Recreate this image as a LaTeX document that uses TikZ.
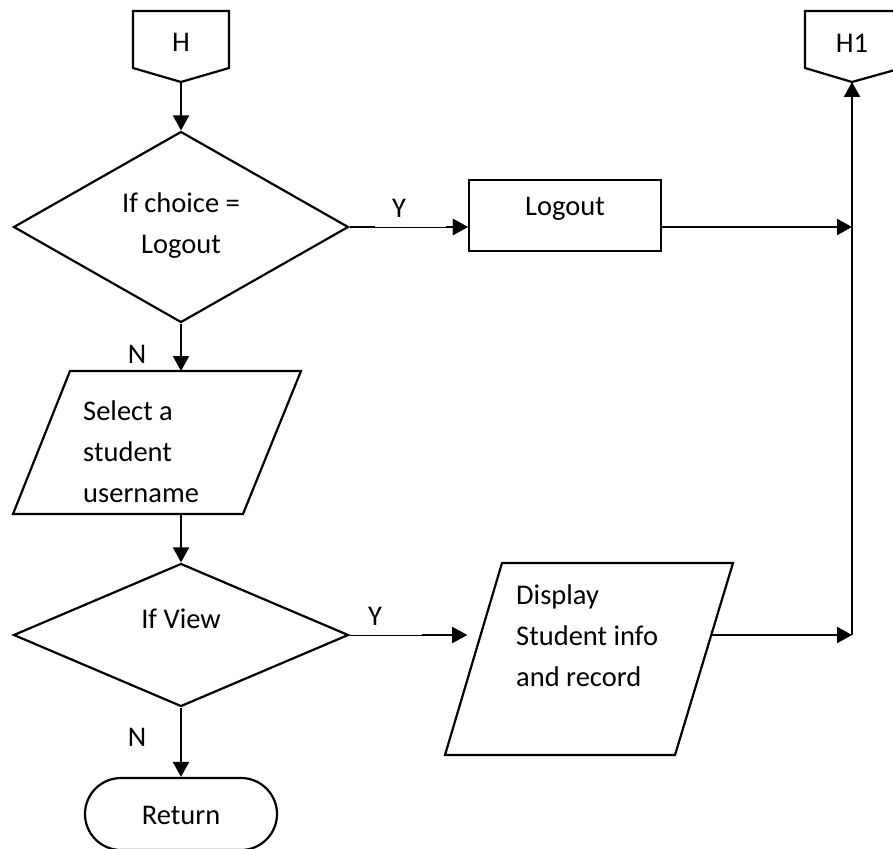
\documentclass[tikz,border=0pt]{standalone}
\usepackage{fontspec}
\setmainfont{Carlito}
\usetikzlibrary{arrows.meta,shapes.geometric}
\begin{document}
\begin{tikzpicture}[x=1pt,y=-1pt,
  ln/.style={line width=2.2pt, line join=miter},
  conn/.style={line width=2.2pt,-{Triangle[length=15pt,width=16pt]}},
  thinconn/.style={line width=0.9pt,-{Triangle[length=15pt,width=16pt]}},
  stub/.style={line width=2.2pt},
  txt/.style={font=\fontsize{28.5}{41}\selectfont, inner sep=0pt},
  decision/.style={diamond, draw, line width=2.2pt, inner sep=0pt, fill=white},
  procbox/.style={rectangle, draw, line width=2.2pt, inner sep=0pt, fill=white},
  termbox/.style={rectangle, rounded corners=36pt, draw, line width=2.2pt, inner sep=0pt, fill=white}]
\useasboundingbox (0,0) rectangle (893,848);
\clip (0,0) rectangle (893,848);
\fill[white] (0,0) rectangle (893,848);

% off-page connectors
\draw[ln] (133,11) -- (229,11) -- (229,68) -- (181,82) -- (133,68) -- cycle;
\node[txt] (H) at (181,42) {H};
\coordinate (Hb) at (181,82);
\draw[ln] (805,11) -- (902,11) -- (902,68) -- (852,82) -- (805,68) -- cycle;
\node[txt] (H1) at (852,43) {H1};
\coordinate (H1b) at (852,82);

% decision 1
\node[decision, minimum width=335pt, minimum height=191pt] (d1) at (181,227) {};
\node[txt, align=center] (d1t) at (181,226) {If choice =\\Logout};

% logout box
\node[procbox, minimum width=192pt, minimum height=71pt] (lo) at (565,215.5) {};
\node[txt] (lot) at (565,209) {Logout};

% junction points on right line
\coordinate (j1) at (852,227);
\coordinate (j2) at (852,635);

% select parallelogram
\draw[ln, fill=white] (70,371) -- (301,371) -- (243,514) -- (13,514) -- cycle;
\coordinate (selTop) at (181,371);
\coordinate (selBot) at (181,514);
\node[txt, align=left, anchor=west] (selt) at (83,452) {Select a\\student\\username};

% decision 2
\node[decision, minimum width=335pt, minimum height=143pt] (d2) at (181,635) {};
\node[txt] (d2t) at (181,619) {If View};

% display parallelogram
\draw[ln, fill=white] (502,563) -- (733,563) -- (675,755) -- (445,755) -- cycle;
\coordinate (dispIn) at (467,635);
\coordinate (dispOut) at (712,635);
\node[txt, align=left, anchor=west] (dispt) at (516,636) {Display\\Student info\\and record};

% return terminal
\node[termbox, minimum width=192pt, minimum height=72pt] (ret) at (181,814) {};
\node[txt] (rett) at (181,815) {Return};

% connectors
\draw[conn] (Hb) -- (d1.north);
\draw[thinconn] (d1.east) -- (d1.east -| lo.west);
\draw[stub] (d1.east) -- ++(25,0);
\draw[conn] ([xshift=-22pt]d1.east -| lo.west) -- (d1.east -| lo.west);
\node[txt] (y1) at (399,208) {Y};
\draw[conn] (lo.east |- j1) -- (j1);
\draw[conn] (j2) -- (H1b);
\draw[conn] (d1.south) -- (selTop);
\node[txt] (n1) at (137,354) {N};
\draw[conn] (selBot) -- (d2.north);
\draw[thinconn] (d2.east) -- (dispIn);
\draw[conn] ([xshift=-45pt]dispIn) -- (dispIn);
\node[txt] (y2) at (375,616) {Y};
\draw[conn] (dispOut) -- (j2);
\draw[conn] (d2.south) -- (ret.north);
\node[txt] (n2) at (137,737) {N};
\end{tikzpicture}
\end{document}
